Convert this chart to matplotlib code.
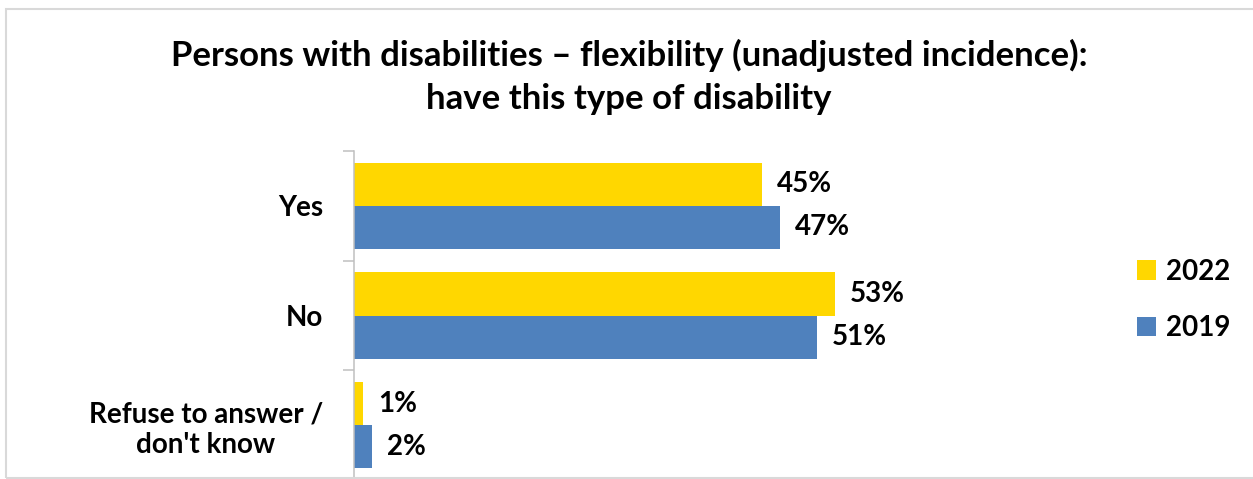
import numpy as np
import matplotlib.pyplot as plt
from matplotlib.patches import Rectangle

plt.rcParams['font.family'] = ['Lato', 'DejaVu Sans']

# ---- data ----
categories = ['Yes', 'No', "Refuse to answer /\ndon't know"]
vals_2022 = [45, 53, 1]
vals_2019 = [47, 51, 2]
series_names = ['2022', '2019']

col_2022 = '#FFD700'
col_2019 = '#4F81BD'

W, H = 1253, 479
fig = plt.figure(figsize=(W / 100, H / 100), dpi=100)
pt = 72 / 100  # points per pixel

# light frame round the chart area (right side runs off the edge)
fig.patches.append(Rectangle((6 / W, 1 / H), 1.2, (470 - 1) / H,
                             transform=fig.transFigure, fill=False,
                             edgecolor='#D9D9D9', linewidth=1.5))

px_per_pct = 9.07
ax_left, ax_right = 354, 1000
ax_top, ax_bot = 151, 480
ax = fig.add_axes([ax_left / W, (H - ax_bot) / H,
                   (ax_right - ax_left) / W, (ax_bot - ax_top) / H])

y = np.arange(len(categories))
bh = 43 / 109.5
b1 = ax.barh(y - bh / 2, vals_2022, height=bh, color=col_2022, label=series_names[0])
b2 = ax.barh(y + bh / 2, vals_2019, height=bh, color=col_2019, label=series_names[1])

ax.set_xlim(0, (ax_right - ax_left) / px_per_pct)
ax.set_ylim(len(categories) - 0.5, -0.5)

for bars, vals in ((b1, vals_2022), (b2, vals_2019)):
    for bar, v in zip(bars, vals):
        ax.annotate(f'{v}%', (v, bar.get_y() + bar.get_height() / 2),
                    xytext=(15 * pt, 0), textcoords='offset points',
                    ha='left', va='center', fontsize=20, fontweight='bold')

# category labels sit between the group ticks
ax.set_yticks(np.arange(-0.5, len(categories), 1))
ax.set_yticklabels([])
ax.tick_params(axis='y', length=11 * pt, width=1.5 * pt, color='#BFBFBF')
ax.set_yticks(y, minor=True)
ax.set_yticklabels(categories, minor=True, fontsize=20, fontweight='bold',
                   multialignment='center')
ax.tick_params(axis='y', which='minor', length=0, pad=31 * pt)

ax.set_xticks([])
for s in ('top', 'right', 'bottom'):
    ax.spines[s].set_visible(False)
ax.spines['left'].set_color('#BFBFBF')
ax.spines['left'].set_linewidth(1.5 * pt)

fig.text(629 / W, 1 - 77 / H,
         'Persons with disabilities \u2013 flexibility (unadjusted incidence):\nhave this type of disability',
         ha='center', va='center', fontsize=25, fontweight='bold',
         linespacing=1.45)

fig.legend(handles=[b1, b2], labels=series_names,
           loc='center left', bbox_to_anchor=(1137 / W, 1 - 300 / H),
           frameon=False, prop={'weight': 'bold', 'size': 20},
           borderaxespad=0, borderpad=0,
           handlelength=0.7, handleheight=0.7, handletextpad=0.35,
           labelspacing=1.1)

fig.savefig('out.png', dpi=100)
